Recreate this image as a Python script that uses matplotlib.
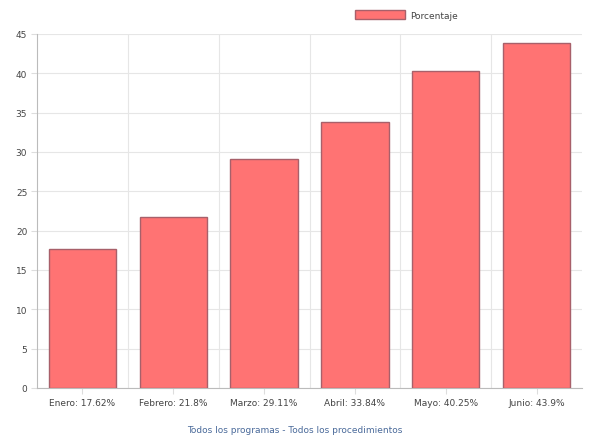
import matplotlib
matplotlib.use("Agg")
import matplotlib.pyplot as plt
from matplotlib.patches import Patch

categories = ["Enero", "Febrero", "Marzo", "Abril", "Mayo", "Junio"]
values = [17.62, 21.8, 29.11, 33.84, 40.25, 43.9]
value_labels = ["17.62%", "21.8%", "29.11%", "33.84%", "40.25%", "43.9%"]
y_ticks = [0, 5, 10, 15, 20, 25, 30, 35, 40, 45]
series_name = "Porcentaje"
title = "Todos los programas - Todos los procedimientos"

W, H = 590, 439
fig = plt.figure(figsize=(W / 100, H / 100), dpi=100)
ax = fig.add_axes([37 / W, (H - 389) / H, (582 - 37) / W, (389 - 35) / H])

x = list(range(len(categories)))
ax.bar(x, values, width=0.74, color="#ff7373", edgecolor="#a8606a", linewidth=1.0, zorder=3)

ax.set_xlim(-0.5, len(categories) - 0.5)
ax.set_ylim(0, 45)
ax.set_yticks(y_ticks)
ax.set_yticklabels([str(t) for t in y_ticks], fontsize=6.5, color="#444444")
ax.set_xticks(x)
ax.set_xticklabels([f"{c}: {v}" for c, v in zip(categories, value_labels)], fontsize=6.5, color="#444444")

# grid lines
ax.set_xticks([i + 0.5 for i in range(len(categories) - 1)], minor=True)
ax.grid(axis="y", color="#e6e6e6", linewidth=0.8, zorder=0)
ax.grid(axis="x", which="minor", color="#e6e6e6", linewidth=0.8, zorder=0)
ax.tick_params(axis="x", which="minor", length=0)
ax.tick_params(axis="both", which="major", length=4, color="#dddddd", pad=3)

for s in ["top", "right"]:
    ax.spines[s].set_visible(False)
for s in ["left", "bottom"]:
    ax.spines[s].set_color("#bbbbbb")
    ax.spines[s].set_linewidth(0.8)

leg = fig.legend(handles=[Patch(facecolor="#ff7373", edgecolor="#a8606a", label=series_name)],
                 loc="center", bbox_to_anchor=(406 / W, 1 - 16 / H), frameon=False,
                 fontsize=6.5, handlelength=5.6, handleheight=1.0, handletextpad=0.5)
for t in leg.get_texts():
    t.set_color("#444444")

fig.text(0.5, 1 - 431 / H, title, ha="center", va="center", fontsize=6.5, color="#4a6a9a")

fig.savefig("out.png", dpi=100)
